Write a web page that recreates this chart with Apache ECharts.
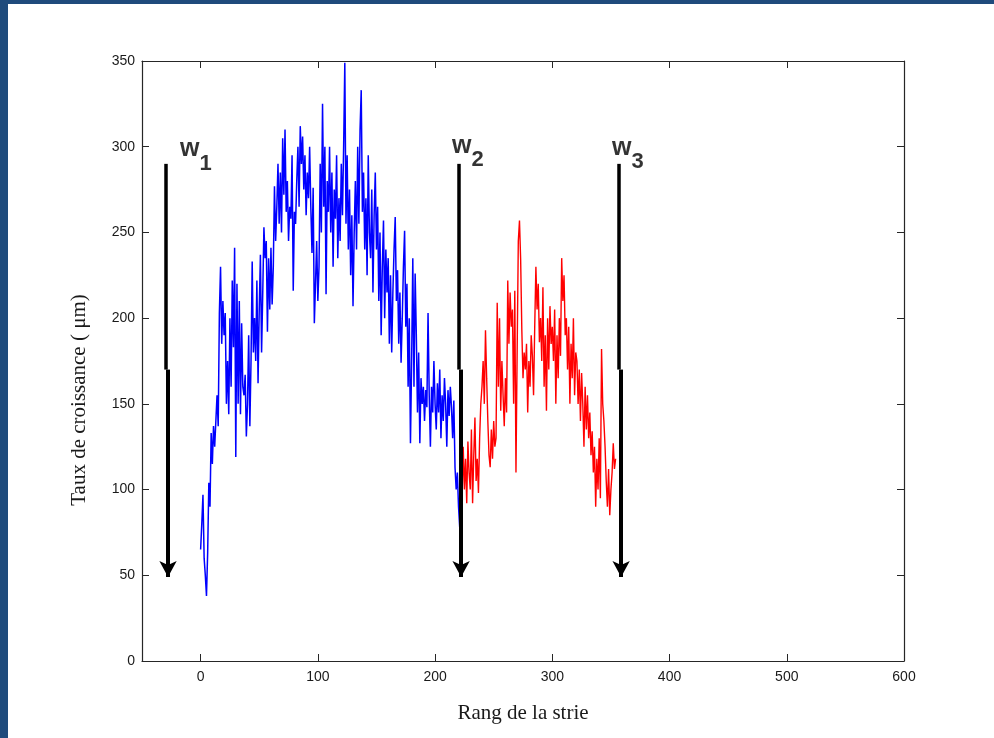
<!DOCTYPE html>
<html>
<head>
<meta charset="utf-8">
<script src="https://cdn.jsdelivr.net/npm/echarts@6/dist/echarts.min.js"></script>
<style>
html,body{margin:0;padding:0;background:#fff;}
#chart{width:994px;height:738px;}
</style>
</head>
<body>
<div id="chart"></div>
<script>
// ---- data ----
const xTicks = [0, 100, 200, 300, 400, 500, 600];
const yTicks = [0, 50, 100, 150, 200, 250, 300, 350];

const blueStart = 0;
const blueValues = [
  65, 80, 97, 60, 50, 38, 63, 104, 90, 133,
  115, 137, 125, 140, 155, 137, 203, 230, 185, 210,
  190, 203, 150, 175, 144, 200, 160, 222, 183, 241,
  119, 220, 150, 210, 144, 197, 160, 155, 167, 131,
  150, 190, 137, 175, 233, 180, 200, 175, 222, 162,
  205, 237, 180, 215, 253, 235, 245, 192, 235, 205,
  241, 208, 230, 277, 245, 265, 290, 255, 285, 250,
  305, 272, 310, 262, 280, 245, 265, 258, 295, 216,
  262, 255, 280, 300, 265, 312, 290, 306, 275, 295,
  260, 285, 270, 300, 265, 238, 276, 197, 220, 245,
  210, 230, 290, 250, 325, 265, 300, 214, 280, 262,
  300, 250, 285, 230, 275, 258, 295, 235, 270, 245,
  290, 260, 300, 349, 255, 295, 240, 275, 225, 260,
  207, 250, 280, 240, 300, 255, 310, 333, 262, 285,
  240, 270, 225, 295, 250, 235, 275, 215, 260, 285,
  240, 265, 210, 250, 190, 230, 257, 200, 240, 215,
  235, 185, 225, 180, 215, 240, 259, 210, 228, 185,
  215, 174, 200, 230, 251, 195, 220, 160, 200, 127,
  175, 235, 160, 226, 190, 145, 180, 127, 165, 150,
  160, 140, 158, 148, 203, 155, 125, 160, 145, 175,
  150, 135, 162, 145, 170, 130, 155, 140, 165, 150,
  125, 158, 143, 160, 148, 130, 152, 113, 100, 110,
  90, 78
];

const redStart = 222;
const redValues = [
  57, 95, 125, 100, 118, 92, 128, 110, 100, 135,
  92, 120, 142, 105, 118, 98, 130, 150, 160, 175,
  150, 193, 165, 140, 120, 113, 135, 118, 140, 125,
  130, 209, 160, 200, 146, 175, 155, 137, 165, 145,
  222, 185, 215, 195, 205, 150, 216, 110, 180, 245,
  257, 234, 193, 165, 180, 170, 185, 145, 175, 160,
  190, 178, 155, 195, 230, 205, 220, 186, 200, 175,
  218, 160, 190, 146, 200, 170, 207, 185, 195, 175,
  205, 150, 190, 165, 200, 178, 235, 210, 225, 190,
  200, 170, 195, 150, 185, 165, 200, 155, 180, 175,
  150, 170, 140, 168, 150, 125, 160, 135, 155, 130,
  145, 120, 134, 110, 125, 90, 118, 100, 130, 95,
  182, 150, 140, 125, 105, 90, 112, 85, 100, 110,
  127, 112, 118
];

// arrows (data coordinates)
const arrowNames = ['1', '2', '3'];
const arrowUpperX = [-29.5, 220.5, 357];
const arrowLowerX = [-27.8, 222.2, 358.7];
const arrowTop = 290;
const arrowMid = 170;
const arrowEnd = 49;
const labelX = [-17.6, 214.5, 351];
const labelY = [304, 306, 305];

// ---- build ----
const blueData = blueValues.map((v, i) => [blueStart + i, v]);
const redData = redValues.map((v, i) => [redStart + i, v]);

const upperLines = arrowUpperX.map(x => [{coord: [x, arrowTop]}, {coord: [x, arrowMid]}]);
const lowerLines = arrowLowerX.map(x => [{coord: [x, arrowMid]}, {coord: [x, arrowEnd]}]);
const labelData = labelX.map((x, i) => ({value: [x, labelY[i]], name: arrowNames[i]}));

const axisColor = '#262626';
const tickFont = {fontFamily: 'Liberation Sans', fontSize: 14, color: '#1a1a1a'};

const chart = echarts.init(document.getElementById('chart'), null, {renderer: 'canvas'});
chart.setOption({
  animation: false,
  backgroundColor: '#ffffff',
  graphic: [
    {type: 'rect', left: 0, top: 0, shape: {width: 994, height: 4}, style: {fill: '#1f4b7c'}},
    {type: 'rect', left: 0, top: 0, shape: {width: 8, height: 738}, style: {fill: '#1f4b7c'}}
  ],
  grid: {left: 142, right: 90, top: 61, bottom: 77},
  xAxis: [
    {
      type: 'value', min: -50, max: 600, position: 'bottom',
      axisLine: {show: true, onZero: false, lineStyle: {color: axisColor, width: 1.2}},
      axisTick: {show: true, inside: true, length: 7, customValues: xTicks, lineStyle: {color: axisColor}},
      axisLabel: {show: true, customValues: xTicks, margin: 9, ...tickFont},
      splitLine: {show: false},
      name: 'Rang de la strie', nameLocation: 'middle', nameGap: 42,
      nameTextStyle: {fontFamily: 'Liberation Serif', fontSize: 21, color: '#1a1a1a'}
    },
    {
      type: 'value', min: -50, max: 600, position: 'top',
      axisLine: {show: true, onZero: false, lineStyle: {color: axisColor, width: 1.2}},
      axisTick: {show: true, inside: true, length: 7, customValues: xTicks, lineStyle: {color: axisColor}},
      axisLabel: {show: false},
      splitLine: {show: false}
    }
  ],
  yAxis: [
    {
      type: 'value', min: 0, max: 350, interval: 50, position: 'left',
      axisLine: {show: true, onZero: false, lineStyle: {color: axisColor, width: 1.2}},
      axisTick: {show: true, inside: true, length: 7, lineStyle: {color: axisColor}},
      axisLabel: {show: true, margin: 7, ...tickFont},
      splitLine: {show: false},
      name: 'Taux de croissance ( μm)', nameLocation: 'middle', nameGap: 52,
      nameTextStyle: {fontFamily: 'Liberation Serif', fontSize: 21, color: '#1a1a1a', padding: [0, 78, 0, 0]}
    },
    {
      type: 'value', min: 0, max: 350, interval: 50, position: 'right',
      axisLine: {show: true, onZero: false, lineStyle: {color: axisColor, width: 1.2}},
      axisTick: {show: true, inside: true, length: 7, lineStyle: {color: axisColor}},
      axisLabel: {show: false},
      splitLine: {show: false}
    }
  ],
  series: [
    {
      type: 'line', data: blueData, showSymbol: false, symbol: 'none',
      lineStyle: {color: '#0000ff', width: 1.5}, z: 3
    },
    {
      type: 'line', data: redData, showSymbol: false, symbol: 'none',
      lineStyle: {color: '#ff0000', width: 1.4}, z: 3,
      markLine: {
        silent: true, animation: false, symbol: ['none', 'none'],
        label: {show: false},
        lineStyle: {color: '#000', width: 3.5, type: 'solid'},
        data: upperLines
      }
    },
    {
      type: 'line', data: [], z: 4,
      markLine: {
        silent: true, animation: false, symbol: ['none', 'arrow'], symbolSize: [13, 16],
        label: {show: false},
        lineStyle: {color: '#000', width: 4, type: 'solid'},
        itemStyle: {color: '#000'},
        data: lowerLines
      }
    },
    {
      type: 'scatter', data: labelData, symbolSize: 0, z: 5,
      label: {
        show: true, position: [0, -3], color: '#000',
        formatter: p => '{w|w}{s|' + p.name + '}',
        rich: {
          w: {fontFamily: 'Liberation Sans', fontWeight: 'bold', fontSize: 25, lineHeight: 24, verticalAlign: 'top', color: '#000'},
          s: {fontFamily: 'Liberation Sans', fontWeight: 'bold', fontSize: 22, lineHeight: 38, verticalAlign: 'bottom', color: '#000'}
        }
      }
    }
  ]
});
</script>
</body>
</html>
